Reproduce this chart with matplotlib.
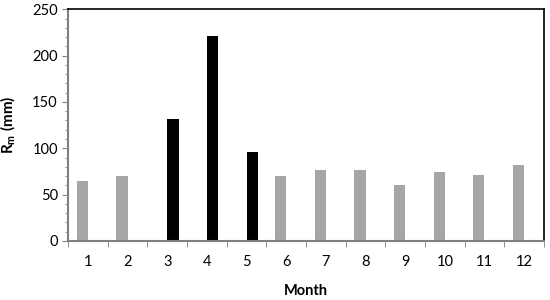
import numpy as np
import matplotlib
matplotlib.use("Agg")
import matplotlib.pyplot as plt
from matplotlib.ticker import MultipleLocator

months = ["1", "2", "3", "4", "5", "6", "7", "8", "9", "10", "11", "12"]
rm_other = [65, 70, 0, 0, 0, 70, 77, 76, 60, 74, 71, 81.5]
rm_wet = [0, 0, 132, 221, 96, 0, 0, 0, 0, 0, 0, 0]

plt.rcParams["font.family"] = ["Lato", "DejaVu Sans"]
plt.rcParams["mathtext.fontset"] = "custom"
plt.rcParams["mathtext.rm"] = "Lato"
plt.rcParams["mathtext.bf"] = "Lato:bold"

fig = plt.figure(figsize=(5.5, 3.0), dpi=100)
ax = fig.add_axes([0.124, 0.197, 0.865, 0.772])

x = np.arange(len(months))
w = 0.285
ax.bar(x - w / 2, rm_other, w, color="#a6a6a6", zorder=2)
ax.bar(x + w / 2, rm_wet, w, color="black", zorder=2)

ax.set_xlim(-0.5, len(months) - 0.5)
ax.set_ylim(0, 250)
ax.set_xticks(x)
ax.set_xticklabels(months)
ax.xaxis.set_minor_locator(MultipleLocator(1, offset=0.5))
ax.tick_params(axis="x", which="major", length=0, pad=10, labelsize=10.5)
ax.tick_params(axis="x", which="minor", length=4, color="#808080", direction="out")
ax.yaxis.set_major_locator(MultipleLocator(50))
ax.yaxis.set_minor_locator(MultipleLocator(10))
ax.tick_params(axis="y", which="major", length=4, color="#808080", labelsize=10.5)
ax.tick_params(axis="y", which="minor", length=2, color="#808080")

for s in ("left", "bottom"):
    ax.spines[s].set_color("#808080")
    ax.spines[s].set_linewidth(1.5)
for s in ("top", "right"):
    ax.spines[s].set_color("black")
    ax.spines[s].set_linewidth(1.2)

ax.set_xlabel("Month", fontsize=10.5, fontweight="bold", labelpad=11)
ax.set_ylabel(r"R$_\mathbf{m}$ (mm)", fontsize=11, fontweight="bold", labelpad=10)

fig.savefig("out.png", dpi=100)
